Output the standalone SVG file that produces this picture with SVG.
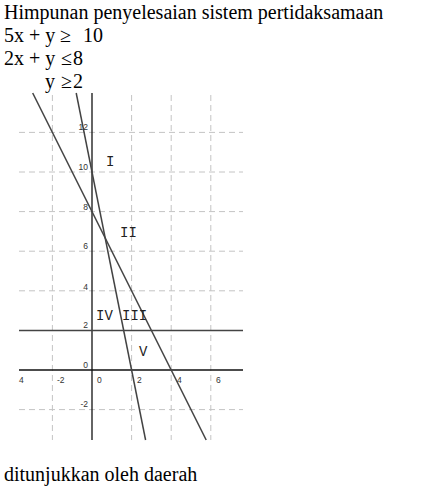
<svg xmlns="http://www.w3.org/2000/svg" width="437" height="491" viewBox="0 0 437 491">
<style>
.t{font-family:"Liberation Serif","Times New Roman",serif;font-size:20px;fill:#000}
.g{stroke:#c4c4c4;stroke-width:1;stroke-dasharray:6,4;fill:none}
.ax{stroke:#111;stroke-width:1.3;fill:none}
.ln{stroke:#444;stroke-width:1.5;fill:none}
.lb{font-family:"Liberation Sans",Arial,sans-serif;font-size:8.5px;fill:#333}
.rn{font-family:"Liberation Mono","Courier New",monospace;font-size:14px;fill:#222}
</style>
<rect width="437" height="491" fill="#fff"/>
<g id="title">
<text class="t" x="4" y="19">Himpunan penyelesaian sistem pertidaksamaan</text>
<text class="t" y="42"><tspan x="4">5x + y</tspan><tspan x="60">≥</tspan><tspan x="83">10</tspan></text>
<text class="t" y="65"><tspan x="4">2x + y</tspan><tspan x="61">≤</tspan><tspan x="73">8</tspan></text>
<text class="t" y="88"><tspan x="45">y</tspan><tspan x="61">≥</tspan><tspan x="73">2</tspan></text>
</g>
<g id="grid">
<path class="g" d="M19 132.4H243M19 172H243M19 211.6H243M19 251.2H243M19 290.8H243M19 409.6H243"/>
<path class="g" d="M52.4 95V440M131.6 95V440M171.2 95V440M210.8 95V440"/>
</g>
<g id="axes">
<path class="ax" d="M92 93V440"/>
<path class="ax" d="M19 370H243"/>
</g>
<g id="connectors">
<path class="ln" d="M19 330.4H243"/>
<path class="ln" d="M76.2 93L145.6 440"/>
<path class="ln" d="M32.7 93L206.2 440"/>
</g>
<g id="ylabels" class="lb" text-anchor="end">
<text x="88" y="130">12</text>
<text x="88" y="169.5">10</text>
<text x="88" y="209.5">8</text>
<text x="88" y="249">6</text>
<text x="88" y="289.5">4</text>
<text x="88" y="328">2</text>
<text x="88" y="367.5">0</text>
<text x="88" y="407">-2</text>
</g>
<g id="xlabels" class="lb">
<text x="19" y="383">4</text>
<text x="57" y="383">-2</text>
<text x="97" y="383">0</text>
<text x="137" y="383">2</text>
<text x="177" y="383">4</text>
<text x="216" y="383">6</text>
</g>
<g id="regions" class="rn">
<text id="r1" x="106" y="166">I</text>
<text id="r2" x="120" y="237">II</text>
<text id="r4" x="96" y="320">IV</text>
<text id="r3" x="122" y="320">III</text>
<text id="r5" x="139" y="356">V</text>
</g>
<g id="footer">
<text class="t" x="4" y="481">ditunjukkan oleh daerah</text>
</g>
</svg>
